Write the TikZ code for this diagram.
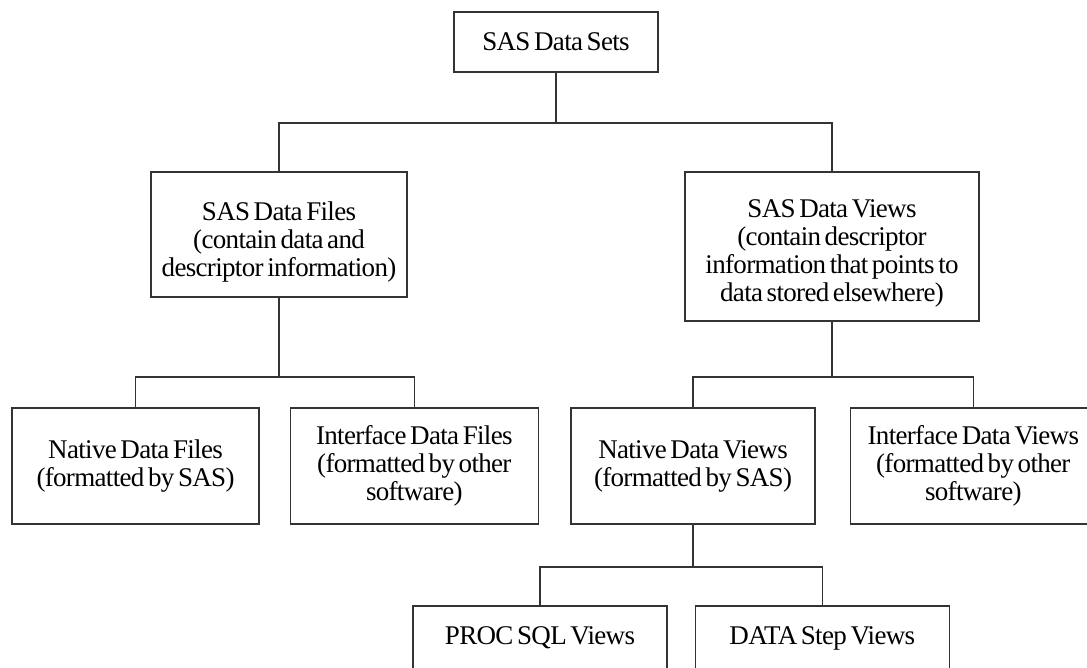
\documentclass[tikz,border=0pt]{standalone}
\usepackage{fontspec}
\setmainfont{Liberation Serif}[WordSpace=0.6,LetterSpace=-2.5]
\usepackage{tikz}
\usetikzlibrary{positioning}

\begin{document}
\begin{tikzpicture}[x=1pt,y=-1pt,
  every node/.style={font=\fontsize{27}{28}\selectfont,text=black,align=center},
  box/.style={draw=black!80,line width=1.3pt,inner sep=0pt},
  link/.style={draw=black!80,line width=1.3pt}]
\useasboundingbox (0,0) rectangle (1087,667);
\node[box,minimum width=204pt,minimum height=60pt] (sets) at (556,42) {SAS Data Sets};
\node[box,minimum width=256pt,minimum height=125pt] (files) at (279,234.5) {\rule{0pt}{34pt}SAS Data Files\\(contain data and\\descriptor information)};
\node[box,minimum width=294pt,minimum height=149pt] (views) at (832,246.5) {\rule{0pt}{32pt}SAS Data Views\\(contain descriptor\\information that points to\\data stored elsewhere)};
\node[box,minimum width=247pt,minimum height=116pt] (nfiles) at (135.5,466) {Native Data Files\\(formatted by SAS)};
\node[box,minimum width=248pt,minimum height=116pt,right=30pt of nfiles] (ifiles) {Interface Data Files\\(formatted by other\\software)};
\node[box,minimum width=244pt,minimum height=116pt] (nviews) at (693,466) {Native Data Views\\(formatted by SAS)};
\node[box,minimum width=246pt,minimum height=116pt,right=34pt of nviews] (iviews) {Interface Data Views\\(formatted by other\\software)};
\node[box,minimum width=254pt,minimum height=64pt] (proc) at (540,638) {PROC SQL Views};
\node[box,minimum width=254pt,minimum height=64pt,right=27pt of proc] (dstep) {DATA Step Views};
% junctions of the tree
\coordinate (j1) at (sets.south |- 0,123);
\coordinate (j2) at (files.south |- 0,377);
\coordinate (j3) at (views.south |- 0,377);
\coordinate (j4) at (nviews.south |- 0,567);
\draw[link] (sets) -- (j1);
\draw[link] (files.north) |- (j1) -| (views.north);
\draw[link] (files) -- (j2);
\draw[link] (nfiles.north) |- (j2) -| (ifiles.north);
\draw[link] (views) -- (j3);
\draw[link] (nviews.north) |- (j3) -| (iviews.north);
\draw[link] (nviews) -- (j4);
\draw[link] (proc.north) |- (j4) -| (dstep.north);
\end{tikzpicture}
\end{document}
